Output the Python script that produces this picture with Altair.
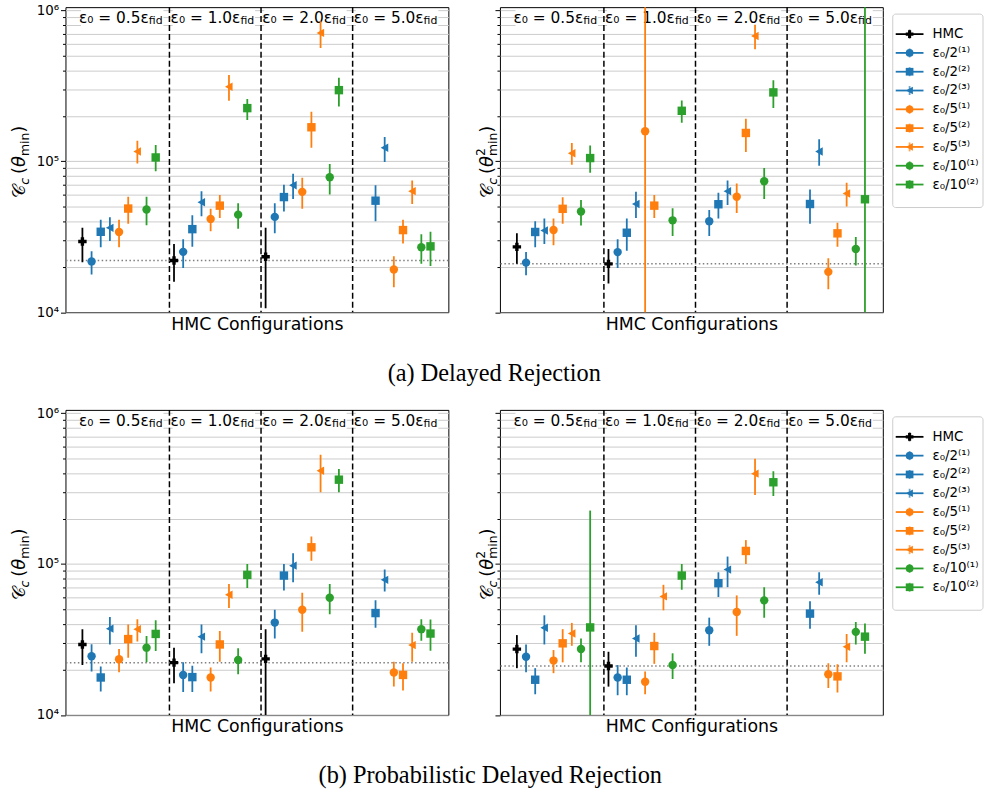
import altair as alt
import pandas as pd

# ---------------- data ----------------
series_names = ["HMC", "ε₀/2⁽¹⁾", "ε₀/2⁽²⁾", "ε₀/2⁽³⁾", "ε₀/5⁽¹⁾", "ε₀/5⁽²⁾", "ε₀/5⁽³⁾",
                "ε₀/10⁽¹⁾", "ε₀/10⁽²⁾"]
series_colors = ["#000000", "#1f77b4", "#1f77b4", "#1f77b4", "#ff7f0e", "#ff7f0e", "#ff7f0e",
                 "#2ca02c", "#2ca02c"]
TRI_LEFT = "M-0.95,0L0.85,-1L0.85,1Z"
series_shapes = ["cross", "circle", "square", TRI_LEFT, "circle", "square", TRI_LEFT,
                 "circle", "square"]
eps_factors = ["0.5", "1.0", "2.0", "5.0"]

# values in units of 10^3; rows = ε0 groups, columns = series (None = not shown)
dr_min_val = [
    [29.4, 21.7, 34.1, 36.2, 34.0, 48.6, 116, 47.9, 106],
    [22.0, 25.1, 35.5, 53.5, 41.5, 50.8, 312, 44.3, 225],
    [23.3, 42.8, 57.9, 69.3, 62.7, 168, 709, 78.4, 296],
    [None, None, 54.8, 123, 19.2, 35.0, 63.4, 26.9, 27.3],
]
dr_min_lo = [
    [21.4, 17.8, 26.9, 29.6, 26.9, 38.5, 96.5, 37.7, 85.9],
    [15.9, 19.6, 27.1, 43.2, 34.4, 42.1, 252, 35.7, 188],
    [10.6, 33.3, 46.5, 56.2, 48.4, 123, 564, 60.3, 231],
    [None, None, 40.0, 99.0, 14.6, 28.5, 52.1, 20.9, 20.2],
]
dr_min_hi = [
    [36.2, 25.3, 41.0, 42.5, 41.0, 58.2, 137, 58.2, 128],
    [28.3, 30.4, 43.8, 63.4, 48.4, 59.7, 373, 52.7, 259],
    [36.2, 52.7, 70.0, 82.6, 77.8, 213, 846, 96.0, 357],
    [None, None, 69.3, 145, 23.5, 41.0, 74.6, 32.8, 34.1],
]

dr_min2_val = [
    [27.1, 21.3, 34.0, 34.8, 35.0, 48.4, 113, 46.5, 105],
    [20.9, 25.0, 33.6, 52.1, 158, 50.8, None, 40.6, 216],
    [None, 40.0, 51.9, 63.4, 58.2, 154, 677, 73.8, 286],
    [None, None, 52.1, 116, 18.5, 33.3, 61.2, 26.2, 56.0],
]
dr_min2_lo = [
    [20.9, 17.6, 26.9, 28.3, 27.8, 38.5, 95.0, 37.5, 84.0],
    [15.5, 19.6, 25.5, 42.1, 1.0, 42.1, None, 32.0, 180],
    [None, 32.0, 41.7, 51.4, 45.4, 115, 553, 56.2, 225],
    [None, None, 38.6, 93.5, 14.2, 27.1, 50.1, 20.4, 1.0],
]
dr_min2_hi = [
    [33.3, 25.0, 40.0, 41.7, 41.7, 57.7, 132, 55.3, 127],
    [26.2, 30.4, 41.7, 62.7, 10000, 59.7, None, 48.9, 253],
    [None, 47.6, 61.8, 74.6, 71.1, 191, 803, 90.4, 344],
    [None, None, 65.0, 140, 22.8, 39.1, 72.1, 31.5, 10000],
]

pdr_min_val = [
    [29.3, 24.5, 17.7, 37.3, 23.4, 31.8, 37.0, 27.9, 34.4],
    [22.2, 18.4, 17.8, 33.0, 17.7, 29.3, 62.5, 23.1, 84.7],
    [23.5, 40.9, 83.8, 97.5, 49.8, 129, 415, 59.7, 362],
    [None, None, 47.3, 78.5, 19.1, 18.4, 29.0, 37.0, 34.6],
]
pdr_min_lo = [
    [21.4, 19.4, 14.3, 29.3, 19.2, 23.9, 30.6, 22.3, 26.5],
    [16.2, 14.2, 14.2, 25.6, 14.3, 22.5, 51.0, 18.6, 69.2],
    [9.0, 32.1, 66.8, 75.7, 35.5, 105, 299, 46.4, 299],
    [None, None, 37.8, 65.8, 15.4, 14.5, 22.5, 31.0, 26.6],
]
pdr_min_hi = [
    [37.0, 29.4, 20.9, 44.5, 27.3, 39.7, 43.1, 33.3, 42.4],
    [27.9, 22.3, 21.2, 39.7, 20.6, 36.0, 73.8, 27.6, 100],
    [37.0, 49.8, 100, 118, 64.4, 152, 530, 73.8, 426],
    [None, None, 57.4, 91.8, 22.5, 22.0, 35.0, 43.1, 42.8],
]

pdr_min2_val = [
    [27.3, 24.3, 17.1, 37.8, 22.9, 29.8, 34.6, 27.3, 38.0],
    [21.1, 17.7, 17.1, 32.1, 16.6, 28.6, 61.0, 21.4, 83.8],
    [None, 36.4, 74.6, 91.8, 48.1, 122, 397, 57.4, 348],
    [None, None, 46.9, 75.7, 18.6, 18.0, 28.3, 35.5, 33.0],
]
pdr_min2_lo = [
    [20.4, 19.2, 13.7, 29.3, 18.9, 22.3, 28.7, 22.3, 5.0],
    [15.4, 13.5, 13.5, 24.3, 13.7, 21.8, 49.3, 17.3, 67.5],
    [None, 28.7, 60.4, 70.2, 33.4, 100, 286, 44.1, 282],
    [None, None, 37.3, 62.5, 15.1, 14.1, 22.3, 29.3, 25.4],
]
pdr_min2_hi = [
    [33.8, 29.3, 20.4, 45.7, 26.9, 37.0, 40.7, 32.1, 226],
    [26.2, 21.4, 20.6, 39.3, 19.4, 35.0, 72.8, 25.6, 100],
    [None, 44.1, 88.1, 112, 61.9, 144, 498, 70.2, 411],
    [None, None, 56.7, 88.1, 22.0, 21.7, 34.3, 41.3, 40.3],
]

subtitle_a = "(a) Delayed Rejection"
subtitle_b = "(b) Probabilistic Delayed Rejection"
xtitle = "HMC Configurations"

# y-axis title pieces: (text, fontSize, dy, style, advances, extra gap after)
ytitle_min = [("𝒞", 18, 0, "normal", True, 0), ("c", 12.5, 4, "italic", True, 4),
              ("(", 18, 0, "normal", True, 0), ("θ", 18, 0, "italic", True, 0),
              ("min", 12.5, 4, "normal", True, 0), (")", 18, 0, "normal", True, 0)]
ytitle_min2 = [("𝒞", 18, 0, "normal", True, 0), ("c", 12.5, 4, "italic", True, 4),
               ("(", 18, 0, "normal", True, 0), ("θ", 18, 0, "italic", True, 0),
               ("2", 12.5, -8, "normal", False, 0),
               ("min", 12.5, 4, "normal", True, 0), (")", 18, 0, "normal", True, 0)]

# ---------------- styling ----------------
W, H = 386, 307.5
FONT = "DejaVu Sans"
X_DOMAIN = [-1.85, 39.95]
Y_DOMAIN = [1e4, 1.05e6]
tick_values = [m * 10 ** e for e in (4, 5) for m in range(1, 10)] + [10 ** 6]
major_test = "datum.value == 10000 || datum.value == 100000 || datum.value == 1000000"
label_expr = ("datum.value == 10000 ? '10⁴' : datum.value == 100000 ? '10⁵' : "
              "datum.value == 1000000 ? '10⁶' : ''")

CW = {"𝒞": 0.72, "c": 0.55, " ": 0.318, "(": 0.39, ")": 0.39, "θ": 0.61, "m": 0.974,
      "i": 0.278, "n": 0.634, "2": 0.636}


def text_w(s, fs):
    return sum(CW.get(ch, 0.6) for ch in s) * fs


xscale = alt.Scale(domain=X_DOMAIN, nice=False, zero=False)
yscale = alt.Scale(type="log", domain=Y_DOMAIN, nice=False)
x_axis = alt.Axis(title=xtitle, labels=False, ticks=False, domain=False, grid=False,
                  titleFont=FONT, titleFontSize=17.5, titleFontWeight="normal",
                  titleColor="black", titlePadding=3)


def y_axis(show_labels):
    return alt.Axis(values=tick_values, title=None, grid=True, gridColor="#cbcbcb", gridWidth=1,
                    domain=False, ticks=True, tickColor="black", tickWidth=1,
                    tickSize={"condition": {"test": major_test, "value": 5}, "value": 3},
                    labels=show_labels, labelExpr=label_expr, labelFontSize=13.5,
                    labelColor="black", labelFont=FONT, labelPadding=2,
                    labelOverlap=False, labelFlush=False)


color_enc = alt.Color("series:N", scale=alt.Scale(domain=series_names, range=series_colors),
                      legend=None)
shape_enc = alt.Shape("series:N", scale=alt.Scale(domain=series_names, range=series_shapes),
                      legend=None)


def panel_df(val, lo, hi):
    rows = []
    for g in range(len(eps_factors)):
        for k, name in enumerate(series_names):
            v = val[g][k]
            if v is None:
                continue
            rows.append({"x": 10 * g + k, "series": name, "val": v * 1e3,
                         "lo": lo[g][k] * 1e3, "hi": hi[g][k] * 1e3})
    return pd.DataFrame(rows)


def ytitle_layers(parts, xb):
    total = sum(text_w(p[0], p[1]) + p[5] for p in parts if p[4])
    pos = -total / 2
    layers = []
    for text, fs, dy, style, adv, gap in parts:
        layers.append(
            alt.Chart(pd.DataFrame({"t": [text]})).mark_text(
                angle=270, align="left", baseline="alphabetic", fontSize=fs, fontStyle=style,
                font=FONT, color="black", dx=pos, dy=dy
            ).encode(x=alt.value(xb), y=alt.value(H / 2 + 2), text="t:N")
        )
        if adv:
            pos += text_w(text, fs) + gap
    return layers


def panel(val, lo, hi, tparts, xb, show_labels):
    df = panel_df(val, lo, hi)
    xs = lambda f: alt.X(f, scale=xscale, axis=x_axis)
    ys = lambda f: alt.Y(f, scale=yscale, axis=y_axis(show_labels))
    ref_df = pd.DataFrame({"ref": [val[1][0] * 1e3]})
    div_df = pd.DataFrame({"b": [10 * g - 0.5 for g in range(1, len(eps_factors))]})
    lab_df = pd.DataFrame({
        "anchor": [10 * g + 7.25 for g in range(len(eps_factors))],
        "bx0": [10 * g - 0.15 for g in range(len(eps_factors))],
        "bx1": [10 * g + 8.85 for g in range(len(eps_factors))],
        "main": [f"ε₀ = {e}ε" for e in eps_factors],
        "sub": ["fid"] * len(eps_factors),
    })
    bg = alt.Chart(lab_df).mark_rect(fill="white").encode(
        x=xs("bx0:Q"), x2="bx1:Q", y=alt.value(2), y2=alt.value(21))
    lab_main = alt.Chart(lab_df).mark_text(
        align="right", baseline="middle", fontSize=15.5, font=FONT, color="black"
    ).encode(x=xs("anchor:Q"), y=alt.value(11), text="main:N")
    lab_sub = alt.Chart(lab_df).mark_text(
        align="left", baseline="middle", fontSize=11, font=FONT, color="black", dy=3
    ).encode(x=xs("anchor:Q"), y=alt.value(11), text="sub:N")
    dividers = alt.Chart(div_df).mark_rule(
        color="black", strokeDash=[6, 3], strokeWidth=1.5
    ).encode(x=xs("b:Q"))
    refline = alt.Chart(ref_df).mark_rule(
        color="#7f7f7f", strokeDash=[1.5, 2.5], strokeWidth=1.5
    ).encode(y=ys("ref:Q"))
    bars = alt.Chart(df).mark_rule(strokeWidth=1.8, clip=True).encode(
        x=xs("x:Q"), y=ys("lo:Q"), y2="hi:Q", color=color_enc)
    pts = alt.Chart(df).mark_point(filled=True, opacity=1, size=72, strokeWidth=0).encode(
        x=xs("x:Q"), y=ys("val:Q"), color=color_enc, shape=shape_enc)
    layers = [bg, lab_main, lab_sub, dividers, refline, bars, pts] + ytitle_layers(tparts, xb)
    return alt.layer(*layers).properties(width=W, height=H)


def legend_chart():
    ldf = pd.DataFrame({"series": series_names})
    yl = alt.Y("series:N", sort=series_names, axis=None,
               scale=alt.Scale(type="point", range=[17.7, 188.3]))
    frame = alt.Chart(pd.DataFrame({"f": [0]})).mark_rect(
        fill="white", stroke="#cccccc", strokeWidth=1, cornerRadius=3
    ).encode(x=alt.value(0), x2=alt.value(91), y=alt.value(7), y2=alt.value(202))
    line = alt.Chart(ldf).mark_rule(strokeWidth=1.8).encode(
        x=alt.value(3), x2=alt.value(31), y=yl, color=color_enc)
    tick = alt.Chart(ldf).mark_tick(orient="vertical", size=9, thickness=1.8).encode(
        x=alt.value(17), y=yl, color=color_enc)
    pts = alt.Chart(ldf).mark_point(filled=True, opacity=1, size=60, strokeWidth=0).encode(
        x=alt.value(17), y=yl, color=color_enc, shape=shape_enc)
    txt = alt.Chart(ldf).mark_text(
        align="left", baseline="middle", fontSize=13.5, font=FONT, color="black"
    ).encode(x=alt.value(40), y=yl, text="series:N")
    return alt.layer(frame, line, tick, pts, txt).properties(
        width=91, height=202, view=alt.ViewBackground(stroke="transparent"))


def sub_title(text, dx):
    return alt.TitleParams(text=text, orient="bottom", anchor="middle", font="Liberation Serif",
                           fontSize=24.5, fontWeight="normal", color="black", offset=29, dx=dx)


row_a = alt.hconcat(
    panel(dr_min_val, dr_min_lo, dr_min_hi, ytitle_min, -41, True),
    alt.hconcat(panel(dr_min2_val, dr_min2_lo, dr_min2_hi, ytitle_min2, -7, False),
                legend_chart(), spacing=7),
    spacing=24,
).properties(title=sub_title(subtitle_a, -3))

row_b = alt.hconcat(
    panel(pdr_min_val, pdr_min_lo, pdr_min_hi, ytitle_min, -41, True),
    alt.hconcat(panel(pdr_min2_val, pdr_min2_lo, pdr_min2_hi, ytitle_min2, -7, False),
                legend_chart(), spacing=7),
    spacing=24,
).properties(title=sub_title(subtitle_b, -7))

chart = alt.vconcat(row_a, row_b, spacing=20).properties(
    padding={"left": 10, "top": -1, "right": 0, "bottom": 0}
).configure(font=FONT).configure_view(stroke="black", strokeWidth=1)

chart.save("out.html", embed_options={"renderer": "svg", "actions": False})
